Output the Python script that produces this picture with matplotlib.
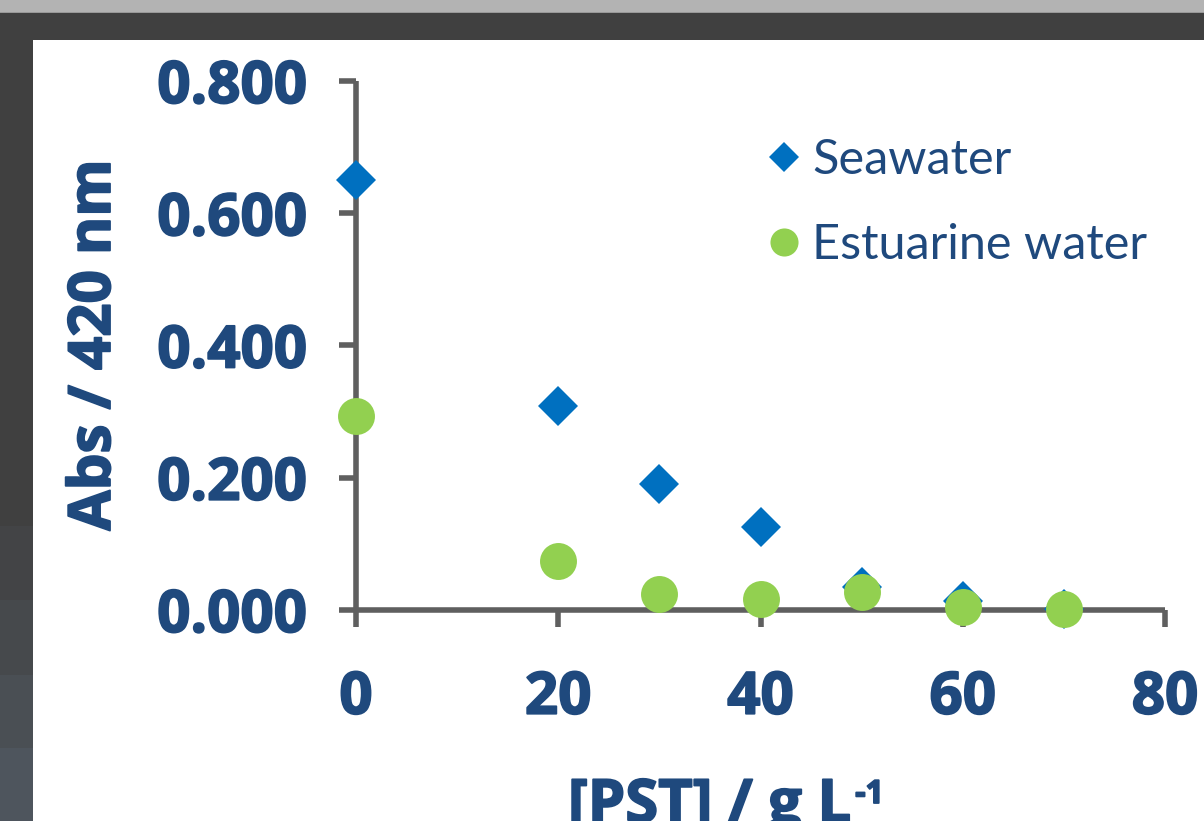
import matplotlib
matplotlib.use("Agg")
import matplotlib.pyplot as plt
from matplotlib.patches import Rectangle
import matplotlib.patheffects as pe

# ---- data ----
conc = [0, 20, 30, 40, 50, 60, 70]
seawater = [0.650, 0.308, 0.190, 0.125, 0.035, 0.013, 0.002]
estuarine = [0.293, 0.074, 0.024, 0.016, 0.027, 0.005, 0.001]
xticks = [0, 20, 40, 60, 80]
yticks = [0.0, 0.2, 0.4, 0.6, 0.8]
ytick_labels = ["0.000", "0.200", "0.400", "0.600", "0.800"]
series_names = ["Seawater", "Estuarine water"]

W, H = 1204, 821
TXT = "#1F497D"
AX = "#5f5f5f"
heavy = [pe.withStroke(linewidth=1.3, foreground=TXT)]

fig = plt.figure(figsize=(W / 100, H / 100), dpi=100, facecolor="#404040")

def rect(x0, y0, x1, y1, color):
    # pixel coords, y from top
    fig.add_artist(Rectangle((x0 / W, 1 - y1 / H), (x1 - x0) / W, (y1 - y0) / H,
                             transform=fig.transFigure, facecolor=color,
                             edgecolor="none", zorder=-10))

rect(0, 0, W, 12, "#b3b3b3")
rect(0, 12, W, 13.5, "#999999")
rect(0, 526, 33, 600, "#434446")
rect(0, 600, 33, 675, "#46494c")
rect(0, 675, 33, 748, "#4a4f54")
rect(0, 748, 33, 821, "#4e555d")
rect(33, 40, W, H, "#ffffff")

ax = fig.add_axes([356 / W, 1 - 610 / H, (1165 - 356) / W, (610 - 81) / H])
ax.set_facecolor("none")

ax.plot(conc, seawater, linestyle="none", marker="D", ms=20.4, mew=0,
        color="#0070C0", clip_on=False, zorder=3, label=series_names[0])
ax.plot(conc, estuarine, linestyle="none", marker="o", ms=26.6, mew=0,
        color="#92D050", clip_on=False, zorder=4, label=series_names[1])

ax.set_xlim(0, 80)
ax.set_ylim(0, 0.8)
for s in ["top", "right"]:
    ax.spines[s].set_visible(False)
for s in ["left", "bottom"]:
    ax.spines[s].set_color(AX)
    ax.spines[s].set_linewidth(4)
    ax.spines[s].set_capstyle("butt")

ax.set_xticks(xticks)
ax.set_xticklabels([str(v) for v in xticks])
ax.set_yticks(yticks)
ax.set_yticklabels(ytick_labels)
ax.tick_params(axis="both", direction="out", length=12, width=4, color=AX)
ax.tick_params(axis="y", pad=23)
ax.tick_params(axis="x", pad=31)
for lab in ax.get_xticklabels() + ax.get_yticklabels():
    lab.set_fontfamily("Open Sans")
    lab.set_fontweight("bold")
    lab.set_fontsize(42)
    lab.set_color(TXT)
    lab.set_path_effects(heavy)

leg = ax.legend(loc="upper left", bbox_to_anchor=(771 / W, 1 - 138 / H),
                bbox_transform=fig.transFigure, frameon=False, borderpad=0,
                borderaxespad=0, handlelength=0.55, handletextpad=0.3,
                labelspacing=0.85, markerscale=0.76,
                prop={"family": "Lato", "size": 35})
for t in leg.get_texts():
    t.set_color(TXT)

fig.text(95 / W, 1 - 345 / H, "Abs / 420 nm", rotation=90, ha="center", va="center",
         fontfamily="Open Sans", fontweight="bold", fontsize=42, color=TXT,
         path_effects=heavy)

main = fig.text(568 / W, 1 - 822 / H, "[PST] / g L", ha="left", va="baseline",
                fontfamily="Open Sans", fontweight="bold", fontsize=43, color=TXT,
                path_effects=heavy)
fig.canvas.draw()
bb = main.get_window_extent()
fig.text((bb.x1 + 4) / W, 1 - 803 / H, "-1", ha="left", va="baseline",
         fontfamily="Open Sans", fontweight="bold", fontsize=23, color=TXT,
         path_effects=heavy)

fig.savefig("out.png", dpi=100, facecolor=fig.get_facecolor())
